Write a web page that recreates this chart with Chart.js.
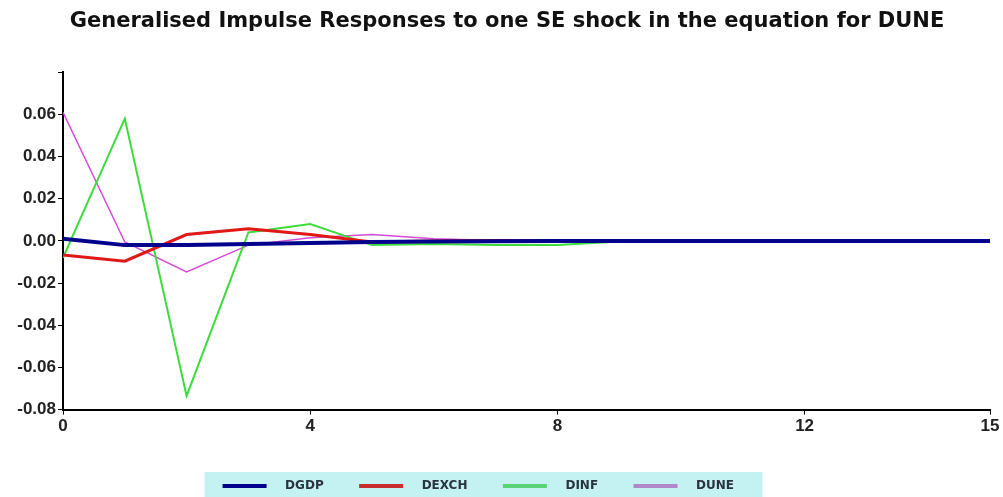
<!DOCTYPE html>
<html>
<head>
<meta charset="utf-8">
<script src="https://cdn.jsdelivr.net/npm/chart.js@4"></script>
<style>
  html, body { margin: 0; padding: 0; background: #fff; }
  #wrap { width: 1003px; height: 497px; }
</style>
</head>
<body>
<div id="wrap"><canvas id="irf"></canvas></div>
<script>
// Horizons and responses
const horizon = [0, 1, 2, 3, 4, 5, 6, 7, 8, 9, 10, 11, 12, 13, 14, 15];
const dgdp  = [0.001, -0.002, -0.002, -0.0015, -0.001, -0.0005, -0.0003, -0.0002, -0.0001, 0, 0, 0, 0, 0, 0, 0];
const dexch = [-0.0067, -0.0096, 0.003, 0.0057, 0.003, -0.0005, 0, 0.0002, 0.0001, 0, 0, 0, 0, 0, 0, 0];
const dinf  = [-0.008, 0.058, -0.0735, 0.004, 0.008, -0.002, -0.0015, -0.002, -0.002, -0.0003, 0, 0, 0, 0, 0, 0];
const dune  = [0.061, -0.0005, -0.0147, -0.002, 0.0015, 0.003, 0.001, 0.0002, 0, 0, 0, 0, 0, 0, 0, 0];
const xTicks = [0, 4, 8, 12, 15];

function pts(vals) {
    return horizon.map((h, i) => ({ x: h, y: vals[i] }));
}

// Cyan strip behind the legend items, title nudged right
const legendBg = {
    id: 'legendBg',
    afterLayout(chart) {
        if (chart.titleBlock) chart.titleBlock.left += 24;
    },
    beforeDraw(chart) {
        const lg = chart.legend;
        if (!lg || !lg.legendHitBoxes || !lg.legendHitBoxes.length) return;
        const boxes = lg.legendHitBoxes;
        const first = boxes[0];
        const last = boxes[boxes.length - 1];
        const left = first.left - 18;
        const right = last.left + last.width - 5;
        const top = first.top - 8;
        const ctx = chart.ctx;
        ctx.save();
        ctx.fillStyle = '#c4f2f2';
        ctx.fillRect(left, top, right - left, chart.height - top);
        ctx.restore();
    }
};

const tickFont = { family: 'Liberation Sans, Arial', size: 17, weight: 'bold' };

new Chart(document.getElementById('irf'), {
    type: 'line',
    data: {
        datasets: [
            { label: 'DGDP',  data: pts(dgdp),  borderColor: '#00008c', backgroundColor: '#00008c', borderWidth: 4 },
            { label: 'DEXCH', data: pts(dexch), borderColor: '#e01818', backgroundColor: '#c83030', borderWidth: 3 },
            { label: 'DINF',  data: pts(dinf),  borderColor: '#3ddc3d', backgroundColor: '#5ad27a', borderWidth: 2 },
            { label: 'DUNE',  data: pts(dune),  borderColor: '#d64ad6', backgroundColor: '#b088c8', borderWidth: 1.5 }
        ]
    },
    options: {
        responsive: true,
        maintainAspectRatio: false,
        animation: false,
        elements: { point: { radius: 0 }, line: { tension: 0 } },
        layout: { padding: { top: 0, right: 13, bottom: -5, left: 0 } },
        plugins: {
            title: {
                display: true,
                text: 'Generalised Impulse Responses to one SE shock in the equation for DUNE',
                color: '#111',
                font: { family: 'DejaVu Sans', size: 21, weight: 'bold' },
                padding: { top: 9, bottom: 38 }
            },
            legend: {
                position: 'bottom',
                labels: {
                    boxWidth: 44,
                    boxHeight: 4,
                    padding: 2,
                    color: '#2a3340',
                    font: { family: 'DejaVu Sans', size: 12, weight: 'bold' },
                    generateLabels(chart) {
                        return chart.data.datasets.map((ds, i) => ({
                            text: '   ' + ds.label + '        ',
                            fillStyle: ds.backgroundColor,
                            strokeStyle: ds.backgroundColor,
                            lineWidth: 0,
                            hidden: false,
                            datasetIndex: i,
                            fontColor: '#2a3340'
                        }));
                    }
                }
            },
            tooltip: { enabled: false }
        },
        scales: {
            x: {
                type: 'linear',
                min: 0,
                max: 15,
                afterBuildTicks(axis) { axis.ticks = xTicks.map(v => ({ value: v })); },
                afterFit(axis) { axis.height += 39; },
                grid: { drawOnChartArea: false, color: '#000', tickLength: 5 },
                border: { color: '#000', width: 2 },
                ticks: { color: '#222', font: tickFont, maxRotation: 0, padding: 2 }
            },
            y: {
                min: -0.08,
                max: 0.08,
                afterFit(axis) { axis.width = 63; },
                grid: { drawOnChartArea: false, color: '#000', tickLength: 5 },
                border: { color: '#000', width: 2 },
                ticks: {
                    stepSize: 0.01,
                    color: '#222',
                    font: tickFont,
                    padding: 2,
                    callback(v) {
                        const k = Math.round(v * 100);
                        if (k % 2 !== 0 || k === 8) return '';
                        return v.toFixed(2);
                    }
                }
            }
        }
    },
    plugins: [legendBg]
});
</script>
</body>
</html>
